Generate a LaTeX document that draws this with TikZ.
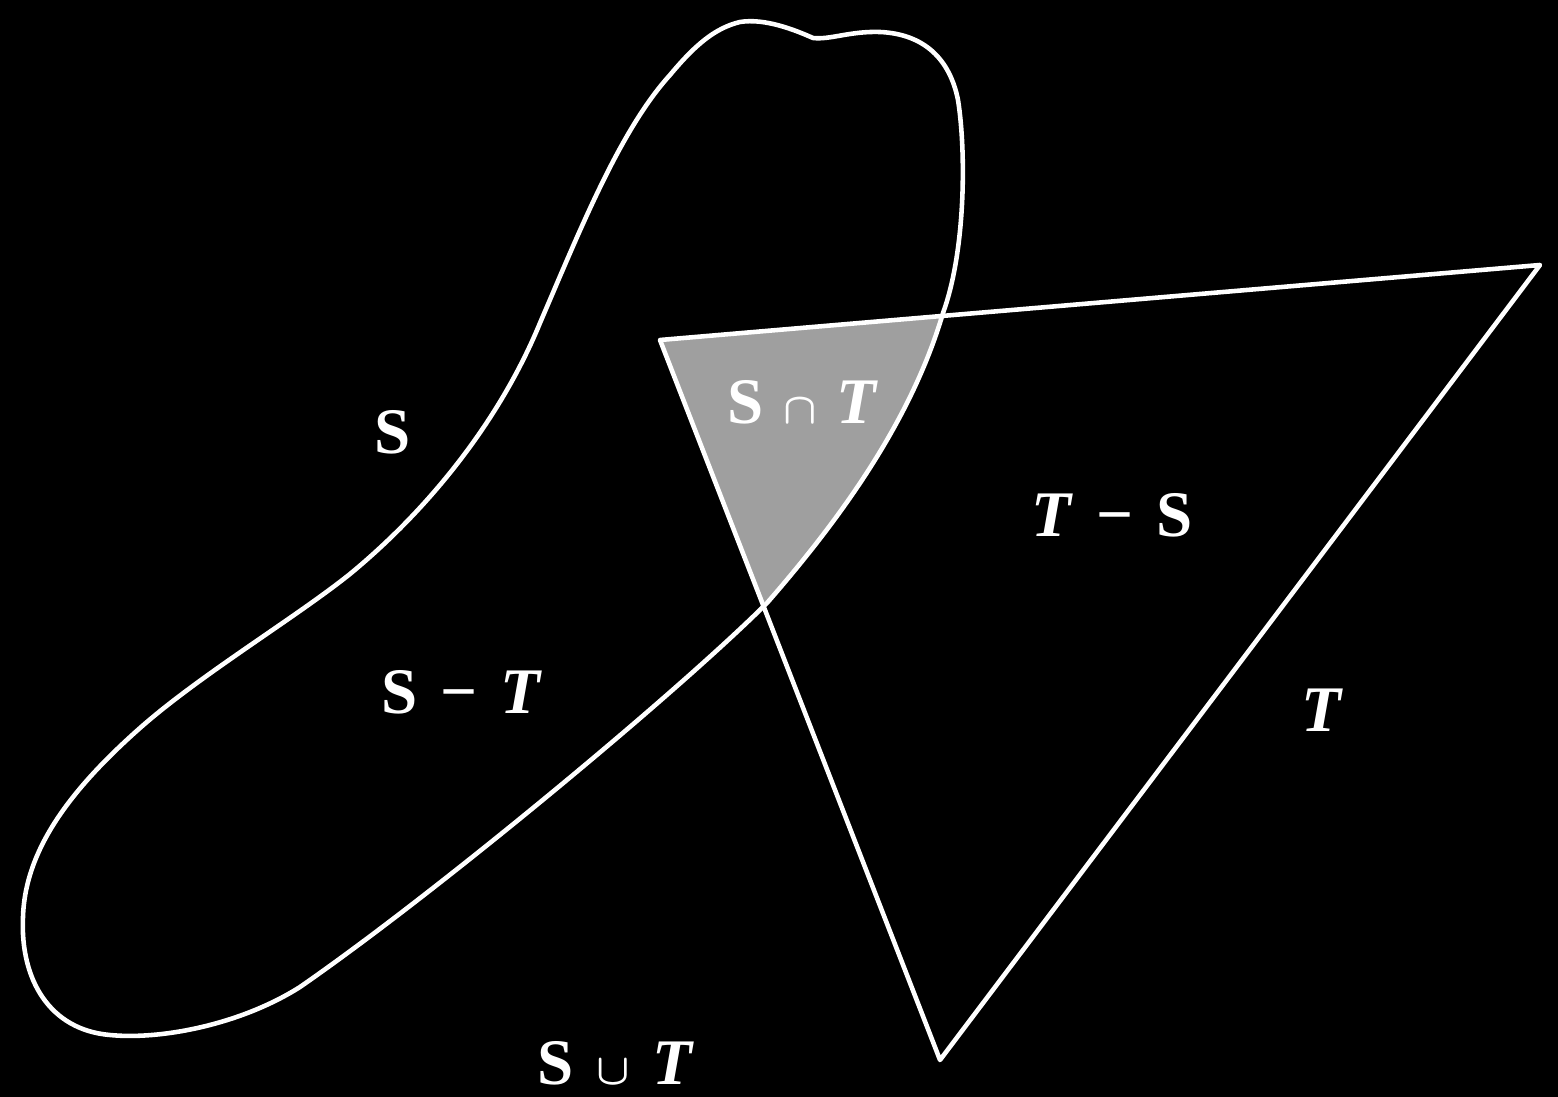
\documentclass[tikz,border=0pt]{standalone}
\usepackage{fontspec}
\setmainfont{Liberation Serif}
\begin{document}
\begin{tikzpicture}[x=0.02cm,y=-0.02cm,
  outline/.style={draw=white,line width=2.6pt,line join=round},
  lbl/.style={text=white,font=\fontsize{37}{44}\selectfont\bfseries\boldmath,inner sep=0pt}]
\fill[black] (0,0) rectangle (1558,1097);
\useasboundingbox (0,0) rectangle (1558,1097);
\coordinate (ta) at (660,340);
\coordinate (tb) at (1540,265);
\coordinate (tc) at (940,1060);
% blob S saved once
\path[save path=\blobS]
  (740,22) .. controls (765,18) and (795,30) .. (813,38)
  .. controls (830,40) and (850,31) .. (880,32)
  .. controls (925,34) and (950,60) .. (958,100)
  .. controls (966,150) and (966,250) .. (943,313)
  .. controls (910,425) and (835,525) .. (767,603)
  .. controls (680,690) and (440,890) .. (300,987)
  .. controls (240,1025) and (160,1040) .. (110,1035)
  .. controls (50,1030) and (20,980) .. (23,917)
  .. controls (25,850) and (70,790) .. (140,728)
  .. controls (200,675) and (295,618) .. (350,574)
  .. controls (430,508) and (500,420) .. (540,323)
  .. controls (580,230) and (620,130) .. (670,75)
  .. controls (695,45) and (715,28) .. (740,22) -- cycle;
% intersection S cap T
\begin{scope}
  \clip (ta) -- (tb) -- (tc) -- cycle;
  \fill[gray!75, use path=\blobS];
\end{scope}
% set S
\draw[outline, use path=\blobS];
% set T
\draw[outline] (ta) -- (tb) -- (tc) -- cycle;
% labels
\node[lbl] (lS) at (393,432) {S};
\node[lbl] (lSmT) at (462,692) {S\hspace{0.35em}−\hspace{0.35em}\textit{T}};
\node[lbl] (lTmS) at (1112,515) {\textit{T}\hspace{0.35em}−\hspace{0.35em}S};
\node[lbl] (lT) at (1322,710) {\textit{T}};
\node[lbl] (lcap) at (803,402) {S\hspace{0.3em}$\cap$\hspace{0.3em}\textit{T}};
\node[lbl] (lcup) at (616,1063) {S\hspace{0.35em}$\cup$\hspace{0.35em}\textit{T}};
\end{tikzpicture}
\end{document}
